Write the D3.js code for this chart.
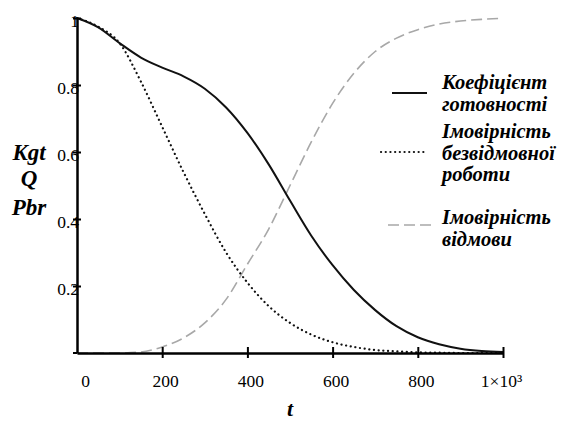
<!DOCTYPE html>
<html><head><meta charset="utf-8">
<script src="https://cdn.jsdelivr.net/npm/d3@7"></script>
<style>
body{margin:0;background:#fff;}
svg text{font-family:"Liberation Serif","DejaVu Serif",serif;fill:#000;}
</style></head>
<body><svg id="c" width="582" height="421"></svg>
<script>
const tValues = [0,50,100,150,200,250,300,350,400,450,500,550,600,650,700,750,800,850,900,950,1000];
const kgt = [1.0,0.972,0.925,0.882,0.852,0.826,0.789,0.733,0.657,0.563,0.455,0.35,0.262,0.188,0.128,0.08,0.047,0.026,0.013,0.006,0.003];
const pbr = [1.0,0.974,0.925,0.81,0.675,0.54,0.415,0.30,0.21,0.14,0.09,0.055,0.032,0.018,0.009,0.005,0.002,0.001,0.0,0.0,0.0];
const q   = [0,0,0,0.003,0.018,0.045,0.09,0.16,0.265,0.37,0.5,0.63,0.745,0.835,0.9,0.94,0.965,0.982,0.991,0.996,0.999];
const xTicks = [0,200,400,600,800,1000];
const xTickLabels = ["0","200","400","600","800","1×10³"];
const yTicks = [0.2,0.4,0.6,0.8,1];
const yTickLabels = ["0.2","0.4","0.6","0.8","1"];
const yTitle = ["Kgt","Q","Pbr"];
const xTitle = "t";
const legendItems = [
  {lines:["Коефіцієнт","готовності"], style:"solid"},
  {lines:["Імовірність","безвідмовної","роботи"], style:"dot"},
  {lines:["Імовірність","відмови"], style:"dash"}
];

const svg = d3.select("#c");
const x = d3.scaleLinear().domain([0,1000]).range([77,503]);
const y = d3.scaleLinear().domain([0,1]).range([353,18]);

const styles = {
  solid:{stroke:"#111", width:2, dash:null, cap:"butt"},
  dot:{stroke:"#111", width:2.2, dash:"0.1 4.6", cap:"round"},
  dash:{stroke:"#a8a8a8", width:1.6, dash:"11 5", cap:"butt"}
};

// lines
const line = d3.line().curve(d3.curveMonotoneX).x((d,i)=>x(tValues[i])).y(d=>y(d));
function draw(data, st){
  const s = styles[st];
  svg.append("path").attr("d",line(data)).attr("fill","none")
    .attr("stroke",s.stroke).attr("stroke-width",s.width)
    .attr("stroke-dasharray",s.dash).attr("stroke-linecap",s.cap);
}
draw(q,"dash");
draw(pbr,"dot");
draw(kgt,"solid");

// axes
const xAxis = svg.append("g").attr("transform",`translate(0,${y(0)})`)
  .call(d3.axisBottom(x).tickValues(xTicks).tickFormat((d,i)=>xTickLabels[i]).tickSizeOuter(0));
xAxis.select(".domain").attr("stroke","#000").attr("stroke-width",2.5);
xAxis.selectAll(".tick line").attr("y1",-6).attr("y2",5).attr("stroke-width",2);
xAxis.selectAll(".tick text").attr("font-size",17.5).attr("y",22).attr("dx",(d,i)=>i===0?8:(i===5?-2:3))
  .style("font-family","'Liberation Serif',serif");
xAxis.selectAll(".tick").filter(d=>d===0).select("line").remove();

const yAxis = svg.append("g").attr("transform",`translate(${x(0)},0)`)
  .call(d3.axisLeft(y).tickValues(yTicks).tickFormat((d,i)=>yTickLabels[i]).tickSizeOuter(0));
yAxis.select(".domain").attr("stroke","#000").attr("stroke-width",2.5);
yAxis.selectAll(".tick line").attr("x1",-4).attr("x2",4).attr("stroke-width",2);
yAxis.selectAll(".tick text").attr("font-size",17.5).attr("x",2).attr("dy","0.5em")
  .style("font-family","'Liberation Serif',serif");
svg.append("line").attr("x1",x(0)-4).attr("x2",x(0)).attr("y1",y(0)).attr("y2",y(0)).attr("stroke","#000").attr("stroke-width",2);

// titles
const yt = svg.append("g").attr("font-weight","bold").attr("font-style","italic").attr("font-size",23);
[[29,160],[29,186],[29,215]].forEach((p,i)=>{
  yt.append("text").attr("x",p[0]).attr("y",p[1]).attr("text-anchor","middle").text(yTitle[i]);
});
svg.append("text").attr("x",290).attr("y",416).attr("font-weight","bold").attr("font-style","italic")
  .attr("font-size",22).attr("text-anchor","middle").text(xTitle);

// legend
const legPos = [{lx1:392,lx2:427,ly:93,ty:89},{lx1:381,lx2:427,ly:152,ty:149},{lx1:388,lx2:432,ly:225,ty:224}];
legendItems.forEach((it,k)=>{
  const s = styles[it.style]; const p = legPos[k];
  svg.append("line").attr("x1",p.lx1).attr("x2",p.lx2).attr("y1",p.ly).attr("y2",p.ly)
    .attr("stroke",s.stroke).attr("stroke-width",s.width).attr("stroke-dasharray",s.dash).attr("stroke-linecap",s.cap);
  it.lines.forEach((l,j)=>{
    svg.append("text").attr("x",442).attr("y",p.ty - (it.lines.length===3?11:0) + j*21.5)
      .attr("font-weight","bold").attr("font-style","italic").attr("font-size",20.5)
      .style("font-family","'Liberation Serif',serif").text(l);
  });
});
</script></body></html>
